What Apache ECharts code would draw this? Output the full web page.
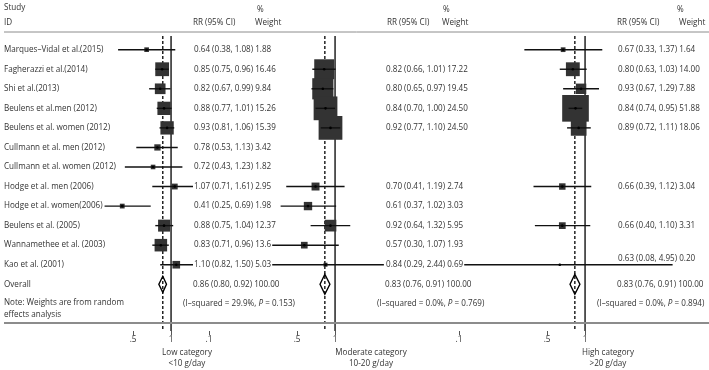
<!DOCTYPE html>
<html>
<head>
<meta charset="utf-8">
<title>Forest plot</title>
<script src="https://cdn.jsdelivr.net/npm/echarts@6/dist/echarts.min.js"></script>
<style>
  html, body { margin: 0; background: #fff; }
  #chart { width: 709px; height: 370px; }
</style>
</head>
<body>
<div id="chart"></div>
<script>
// study labels, top to bottom
const studies = [
  "Marques–Vidal et al.(2015)", "Fagherazzi et al.(2014)", "Shi et al.(2013)",
  "Beulens et al.men (2012)", "Beulens et al. women (2012)", "Cullmann et al. men (2012)",
  "Cullmann et al. women (2012)", "Hodge et al. men (2006)", "Hodge et al. women(2006)",
  "Beulens et al. (2005)", "Wannamethee et al. (2003)", "Kao et al. (2001)"
];

// low category <10 g/day
const lowRR = [0.64, 0.85, 0.82, 0.88, 0.93, 0.78, 0.72, 1.07, 0.41, 0.88, 0.83, 1.10];
const lowLo = [0.38, 0.75, 0.67, 0.77, 0.81, 0.53, 0.43, 0.71, 0.25, 0.75, 0.71, 0.82];
const lowHi = [1.08, 0.96, 0.99, 1.01, 1.06, 1.13, 1.23, 1.61, 0.69, 1.04, 0.96, 1.50];
const lowW = ["1.88", "16.46", "9.84", "15.26", "15.39", "3.42", "1.82", "2.95", "1.98", "12.37", "13.6", "5.03"];
const lowOverall = [0.86, 0.80, 0.92];
const lowHet = ["29.9%", "0.153"];

// moderate category 10-20 g/day
const modRR = [null, 0.82, 0.80, 0.84, 0.92, null, null, 0.70, 0.61, 0.92, 0.57, 0.84];
const modLo = [null, 0.66, 0.65, 0.70, 0.77, null, null, 0.41, 0.37, 0.64, 0.30, 0.29];
const modHi = [null, 1.01, 0.97, 1.00, 1.10, null, null, 1.19, 1.02, 1.32, 1.07, 2.44];
const modW = [null, "17.22", "19.45", "24.50", "24.50", null, null, "2.74", "3.03", "5.95", "1.93", "0.69"];
const modOverall = [0.83, 0.76, 0.91];
const modHet = ["0.0%", "0.769"];

// high category >20 g/day
const highRR = [0.67, 0.80, 0.93, 0.84, 0.89, null, null, 0.66, null, 0.66, null, 0.63];
const highLo = [0.33, 0.63, 0.67, 0.74, 0.72, null, null, 0.39, null, 0.40, null, 0.08];
const highHi = [1.37, 1.03, 1.29, 0.95, 1.11, null, null, 1.12, null, 1.10, null, 4.95];
const highW = ["1.64", "14.00", "7.88", "51.88", "18.06", null, null, "3.04", null, "3.31", null, "0.20"];
const highOverall = [0.83, 0.76, 0.91];
const highHet = ["0.0%", "0.894"];

const ticksLow = [0.5, 1];
const ticksMod = [0.1, 0.5, 1];
const ticksHigh = [0.1, 0.5, 1];

const FONT = '8.1px "Open Sans"';
const TXT = "#333";
const yMin = 0.3, yMax = 15.39;
const xMin = Math.log(0.1), xMax = Math.log(2);

const panels = [
  { rr: lowRR, lo: lowLo, hi: lowHi, w: lowW, ov: lowOverall, het: lowHet, ticks: ticksLow,
    left: 45, textX: 193, hetX: 183, k: 3.4, dh: 8 },
  { rr: modRR, lo: modLo, hi: modHi, w: modW, ov: modOverall, het: modHet, ticks: ticksMod,
    left: 209, textX: 385, hetX: 377, k: 4.8, dh: 10 },
  { rr: highRR, lo: highLo, hi: highHi, w: highW, ov: highOverall, het: highHet, ticks: ticksHigh,
    left: 459, textX: 617, hetX: 597, k: 3.7, dh: 10 }
];

function fmt(v) { return v.toFixed(2); }
function tickText(v) {
  const r = Math.round(Math.exp(v) * 10) / 10;
  return r < 1 ? String(r).replace(/^0/, "") : String(r);
}

function studyItem(p) {
  return function (params, api) {
    const row = api.value(3), i = api.value(4);
    const c = api.coord([api.value(0), row]);
    const a = api.coord([api.value(1), row])[0];
    const b = api.coord([api.value(2), row])[0];
    const y = c[1];
    const s = Math.sqrt(parseFloat(p.w[i])) * p.k;
    const txt = fmt(p.rr[i]) + " (" + fmt(p.lo[i]) + ", " + fmt(p.hi[i]) + ") " + p.w[i];
    const lift = b > p.textX + 10 ? -6 : 0;
    return {
      type: "group",
      children: [
        { type: "rect", shape: { x: c[0] - s / 2, y: y - s / 2, width: s, height: s }, style: { fill: "#333" } },
        { type: "line", shape: { x1: a, y1: y, x2: b, y2: y }, style: { stroke: "#111", lineWidth: 1.4 } },
        { type: "circle", shape: { cx: c[0], cy: y, r: 1.3 }, style: { fill: "#000" } },
        { type: "text", x: p.textX, y: y + lift, z2: 100,
          style: { text: txt, fill: TXT, font: FONT, verticalAlign: "middle",
            backgroundColor: "#fff", padding: [0, 1] } }
      ]
    };
  };
}

function overallItem(p) {
  return function (params, api) {
    const row = api.value(3);
    const c = api.coord([api.value(0), row]);
    const a = api.coord([api.value(1), row])[0];
    const b = api.coord([api.value(2), row])[0];
    const y = c[1], h = p.dh;
    const y2 = api.coord([0, row + 1])[1];
    return {
      type: "group",
      children: [
        { type: "polygon", shape: { points: [[a, y], [c[0], y - h], [b, y], [c[0], y + h]] },
          style: { fill: "rgba(255,255,255,0)", stroke: "#000", lineWidth: 1.4 } },
        { type: "text", x: p.textX, y: y,
          style: { text: fmt(p.ov[0]) + " (" + fmt(p.ov[1]) + ", " + fmt(p.ov[2]) + ") 100.00",
            fill: TXT, font: FONT, verticalAlign: "middle" } },
        { type: "text", x: p.hetX, y: y2,
          style: { text: "(I–squared = " + p.het[0] + ", {i|P} = " + p.het[1] + ")",
            fill: TXT, font: FONT, verticalAlign: "middle",
            rich: { i: { font: "italic " + FONT, fill: TXT } } } }
      ]
    };
  };
}

const grids = [], xAxes = [], yAxes = [], series = [];
panels.forEach(function (p, g) {
  grids.push({ left: p.left, width: 164, top: 36, height: 295 });
  const tv = p.ticks.map(function (t) { return Math.log(t); });
  xAxes.push({
    type: "value", gridIndex: g, min: xMin, max: xMax,
    axisLine: { show: false }, splitLine: { show: false },
    axisTick: { customValues: tv, length: 4, lineStyle: { color: "#555", width: 1 } },
    axisLabel: { customValues: tv, formatter: tickText, margin: 5, color: TXT,
      fontFamily: "Open Sans", fontSize: 8.3 }
  });
  yAxes.push({ type: "value", gridIndex: g, inverse: true, min: yMin, max: yMax, show: false });

  // null line and pooled estimate
  series.push({
    type: "line", xAxisIndex: g, yAxisIndex: g, symbol: "none", silent: true, z: 1,
    data: [[0, yMin], [0, yMax]], lineStyle: { color: "#000", width: 1.3 }
  });
  series.push({
    type: "line", xAxisIndex: g, yAxisIndex: g, symbol: "none", silent: true, z: 1,
    data: [[Math.log(p.ov[0]), yMin], [Math.log(p.ov[0]), yMax]],
    lineStyle: { color: "#000", width: 1.3, type: [3, 2] }
  });

  const rows = [];
  p.rr.forEach(function (v, i) {
    if (v != null) rows.push([Math.log(v), Math.log(p.lo[i]), Math.log(p.hi[i]), i + 1, i]);
  });
  series.push({
    type: "custom", xAxisIndex: g, yAxisIndex: g, z: 3, clip: false, silent: true,
    renderItem: studyItem(p), data: rows
  });
  series.push({
    type: "custom", xAxisIndex: g, yAxisIndex: g, z: 3, clip: false, silent: true,
    renderItem: overallItem(p),
    data: [[Math.log(p.ov[0]), Math.log(p.ov[1]), Math.log(p.ov[2]), studies.length + 1]]
  });
});

// study names down the left edge
series.push({
  type: "custom", xAxisIndex: 0, yAxisIndex: 0, z: 4, clip: false, silent: true,
  data: studies.map(function (s, i) { return [0, i + 1]; }).concat([[0, studies.length + 1]]),
  renderItem: function (params, api) {
    const y = api.coord([0, api.value(1)])[1];
    const name = params.dataIndex < studies.length ? studies[params.dataIndex] : "Overall";
    return { type: "text", x: 4, y: y,
      style: { text: name, fill: TXT, font: FONT, verticalAlign: "middle",
        backgroundColor: "#fff", padding: [0, 2, 0, 0] } };
  }
});

function label(text, x, y, align) {
  return { type: "text", x: x, y: y, z: 10,
    style: { text: text, fill: TXT, font: FONT, verticalAlign: "middle", align: align || "left" } };
}

const graphic = [
  { type: "line", z: 10, shape: { x1: 4, y1: 32, x2: 709, y2: 32 }, style: { stroke: "#8c8c8c", lineWidth: 1 } },
  { type: "line", z: 10, shape: { x1: 4, y1: 323, x2: 709, y2: 323 }, style: { stroke: "#8c8c8c", lineWidth: 2 } },
  label("Study", 4, 8), label("ID", 4, 23),
  label("%", 257, 10), label("RR (95% CI)", 193, 23), label("Weight", 255, 23),
  label("%", 443, 10), label("RR (95% CI)", 387, 23), label("Weight", 442, 23),
  label("%", 677, 10), label("RR (95% CI)", 617, 23), label("Weight", 679, 23),
  label("Note: Weights are from random", 4, 303), label("effects analysis", 4, 315),
  label("Low category", 187, 353, "center"), label("<10 g/day", 187, 364, "center"),
  label("Moderate category", 371, 353, "center"), label("10-20 g/day", 371, 364, "center"),
  label("High category", 608, 353, "center"), label(">20 g/day", 608, 364, "center")
];

const chart = echarts.init(document.getElementById("chart"));
chart.setOption({
  animation: false,
  backgroundColor: "#fff",
  grid: grids,
  xAxis: xAxes,
  yAxis: yAxes,
  series: series,
  graphic: graphic
});
window.addEventListener("resize", function () { chart.resize(); });
</script>
</body>
</html>
